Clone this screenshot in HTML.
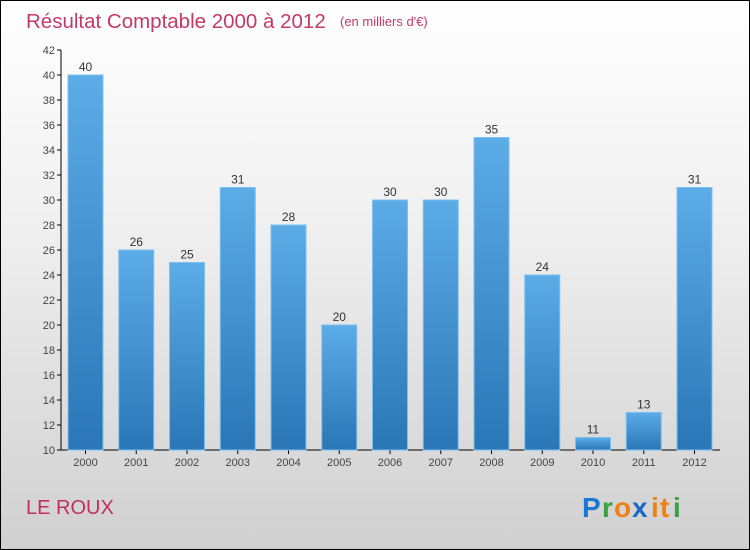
<!DOCTYPE html>
<html><head><meta charset="utf-8"><style>
body{margin:0;width:750px;height:550px;overflow:hidden}
#c{position:absolute;left:0;top:0;width:748px;height:548px;border:1px solid #000;background:linear-gradient(#ffffff 0%,#f0f0f0 40%,#d0d0d0 100%)}
text{font-family:"Liberation Sans",sans-serif}
</style></head><body>
<div id="c">
<svg id="s" width="750" height="550" style="position:absolute;left:-1px;top:-1px">
<defs><linearGradient id="g" x1="0" y1="0" x2="0" y2="1"><stop offset="0" stop-color="#5cace8"/><stop offset="1" stop-color="#2a76b6"/></linearGradient></defs>
<text x="26" y="28" font-size="20.5" fill="#c43a66">Résultat Comptable 2000 à 2012</text>
<text x="340" y="26" font-size="13" fill="#c43a66">(en milliers d'€)</text>
<text x="26" y="514" font-size="20" fill="#c0305e">LE ROUX</text>
<g font-size="28" font-weight="bold">
<text x="582" y="517" fill="#1a78d0">P</text><text x="602" y="517" fill="#3aa040">r</text><text x="614" y="517" fill="#f08010">o</text><text x="632" y="517" fill="#1a68c8">x</text><text x="651" y="517" fill="#f08010">i</text><text x="660" y="517" fill="#f08010">t</text><text x="673" y="517" fill="#3aa040">i</text>
</g>
<g id="ax"></g><g id="bars"></g>
</svg></div>
<script>
const years=["2000","2001","2002","2003","2004","2005","2006","2007","2008","2009","2010","2011","2012"];
const values=[40,26,25,31,28,20,30,30,35,24,11,13,31];
const ticks=[10,12,14,16,18,20,22,24,26,28,30,32,34,36,38,40,42];
const NS="http://www.w3.org/2000/svg";
const y=v=>450-(v-10)*12.5;
const x=i=>85.5+i*50.75;
function mk(t,a,p,txt){const e=document.createElementNS(NS,t);for(const k in a)e.setAttribute(k,a[k]);if(txt!=null)e.textContent=txt;p.appendChild(e);return e;}
const ax=document.getElementById('ax'),bg=document.getElementById('bars');
let l=mk('line',{x1:61,y1:50,x2:61,y2:450,stroke:'#000'},ax);


l=mk('line',{x1:61,y1:450,x2:720,y2:450,stroke:'#000'},ax);


ticks.forEach(t=>{
 mk('line',{x1:57,y1:y(t),x2:61,y2:y(t),stroke:'#000'},ax);
 const e=mk('text',{x:55,y:y(t)+4,'font-size':11,fill:'#444','text-anchor':'end'},ax,t);
 
 
});
years.forEach((yr,i)=>{
 const v=values[i];
 const r=mk('rect',{x:x(i)-17.5,y:y(v),width:35,height:450-y(v),fill:'url(#g)',stroke:'#7cc0f0','stroke-width':1},bg);
 
 
 const t=mk('text',{x:x(i),y:y(v)-4,'font-size':12,fill:'#333','text-anchor':'middle'},bg,v);
 
 
 mk('line',{x1:x(i),y1:450,x2:x(i),y2:454,stroke:'#000'},ax);
 const xl=mk('text',{x:x(i),y:466,'font-size':11,fill:'#444','text-anchor':'middle'},ax,yr);
 
 
});
</script>
</body></html>
